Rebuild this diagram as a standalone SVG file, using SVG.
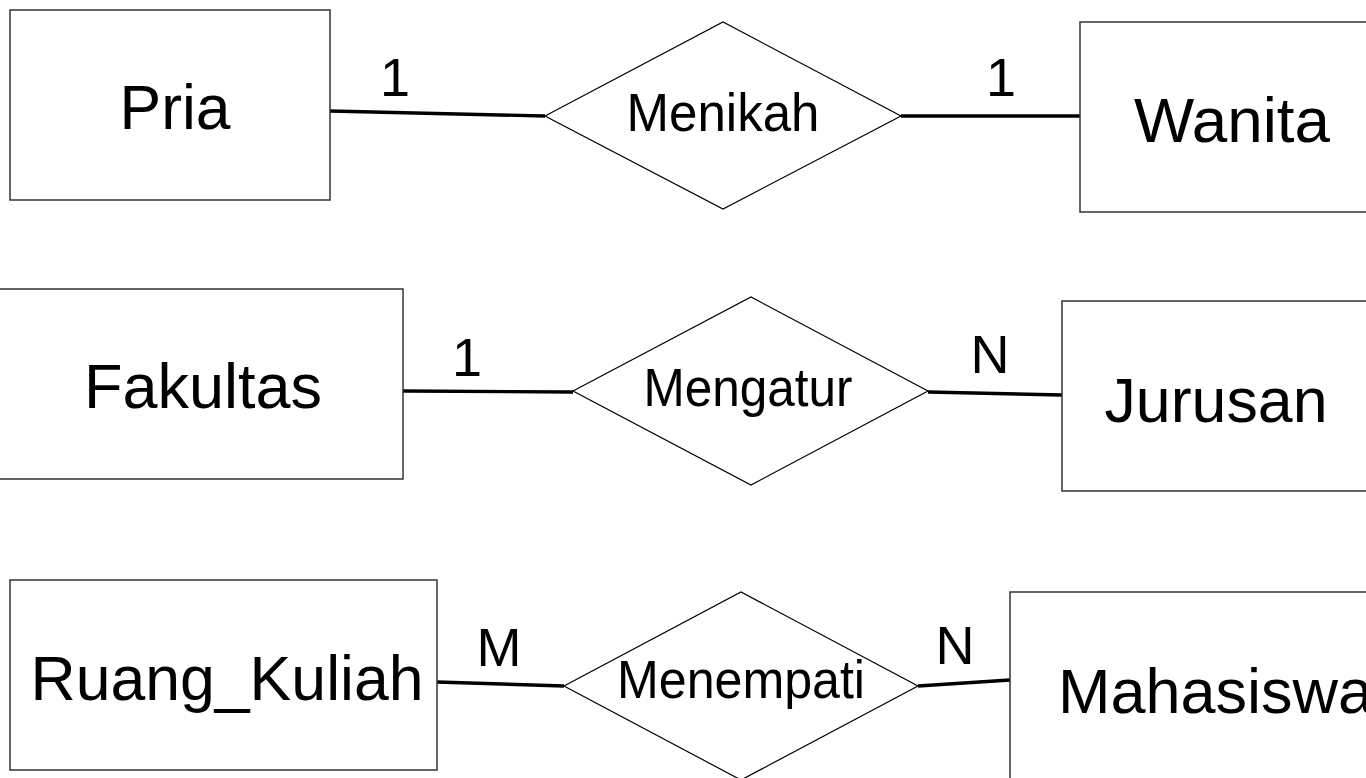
<svg xmlns="http://www.w3.org/2000/svg" width="1366" height="778" viewBox="0 0 1366 778">
<style>
.ent rect{fill:#fff;stroke:#333;stroke-width:1.5}
.rel polygon{fill:#fff;stroke:#000;stroke-width:1.2}
text{font-family:"Liberation Sans",Arial,sans-serif;fill:#000}
.et{font-size:63px;text-anchor:middle}
.rt{font-size:53px;text-anchor:middle}
.card{font-size:54px;text-anchor:middle}
.conn line{stroke:#000;stroke-width:3.4;stroke-linecap:butt}
</style>
<rect width="1366" height="778" fill="#fff"/>
<g id="connectors" class="conn">
<line x1="330" y1="111" x2="545" y2="116"/>
<line x1="901" y1="116" x2="1080" y2="116"/>
<line x1="403" y1="391" x2="573" y2="392"/>
<line x1="928" y1="392" x2="1062" y2="395"/>
<line x1="437" y1="682" x2="564" y2="686"/>
<line x1="918" y1="686" x2="1010" y2="680"/>
</g>
<g id="pria" class="ent"><rect x="10" y="10" width="320" height="190"/><text class="et" x="175" y="129" textLength="111" lengthAdjust="spacingAndGlyphs">Pria</text></g>
<g id="menikah" class="rel"><polygon points="545,116 723,22 901,116 723,209"/><text class="rt" x="723" y="131" textLength="193" lengthAdjust="spacingAndGlyphs">Menikah</text></g>
<g id="wanita" class="ent"><rect x="1080" y="22" width="320" height="190"/><text class="et" x="1232" y="142" textLength="196" lengthAdjust="spacingAndGlyphs">Wanita</text></g>
<g id="fakultas" class="ent"><rect x="-5" y="289" width="408" height="190"/><text class="et" x="203" y="408" textLength="238" lengthAdjust="spacingAndGlyphs">Fakultas</text></g>
<g id="mengatur" class="rel"><polygon points="573,391 751,297 928,391 751,485"/><text class="rt" x="748" y="406" textLength="209" lengthAdjust="spacingAndGlyphs">Mengatur</text></g>
<g id="jurusan" class="ent"><rect x="1062" y="301" width="340" height="190"/><text class="et" x="1216" y="422" textLength="223" lengthAdjust="spacingAndGlyphs">Jurusan</text></g>
<g id="ruang_kuliah" class="ent"><rect x="10" y="580" width="427" height="190"/><text class="et" x="227" y="700" textLength="393" lengthAdjust="spacingAndGlyphs">Ruang_Kuliah</text></g>
<g id="menempati" class="rel"><polygon points="564,686 741,592 918,686 741,780"/><text class="rt" x="741" y="698" textLength="248" lengthAdjust="spacingAndGlyphs">Menempati</text></g>
<g id="mahasiswa" class="ent"><rect x="1010" y="592" width="400" height="190"/><text class="et" x="1058" y="713" style="text-anchor:start">Mahasiswa</text></g>
<g id="labels">
<text class="card" x="395" y="96">1</text>
<text class="card" x="1001" y="96">1</text>
<text class="card" x="467" y="376">1</text>
<text class="card" x="990" y="373">N</text>
<text class="card" x="499" y="666">M</text>
<text class="card" x="955" y="664">N</text>
</g>
</svg>
